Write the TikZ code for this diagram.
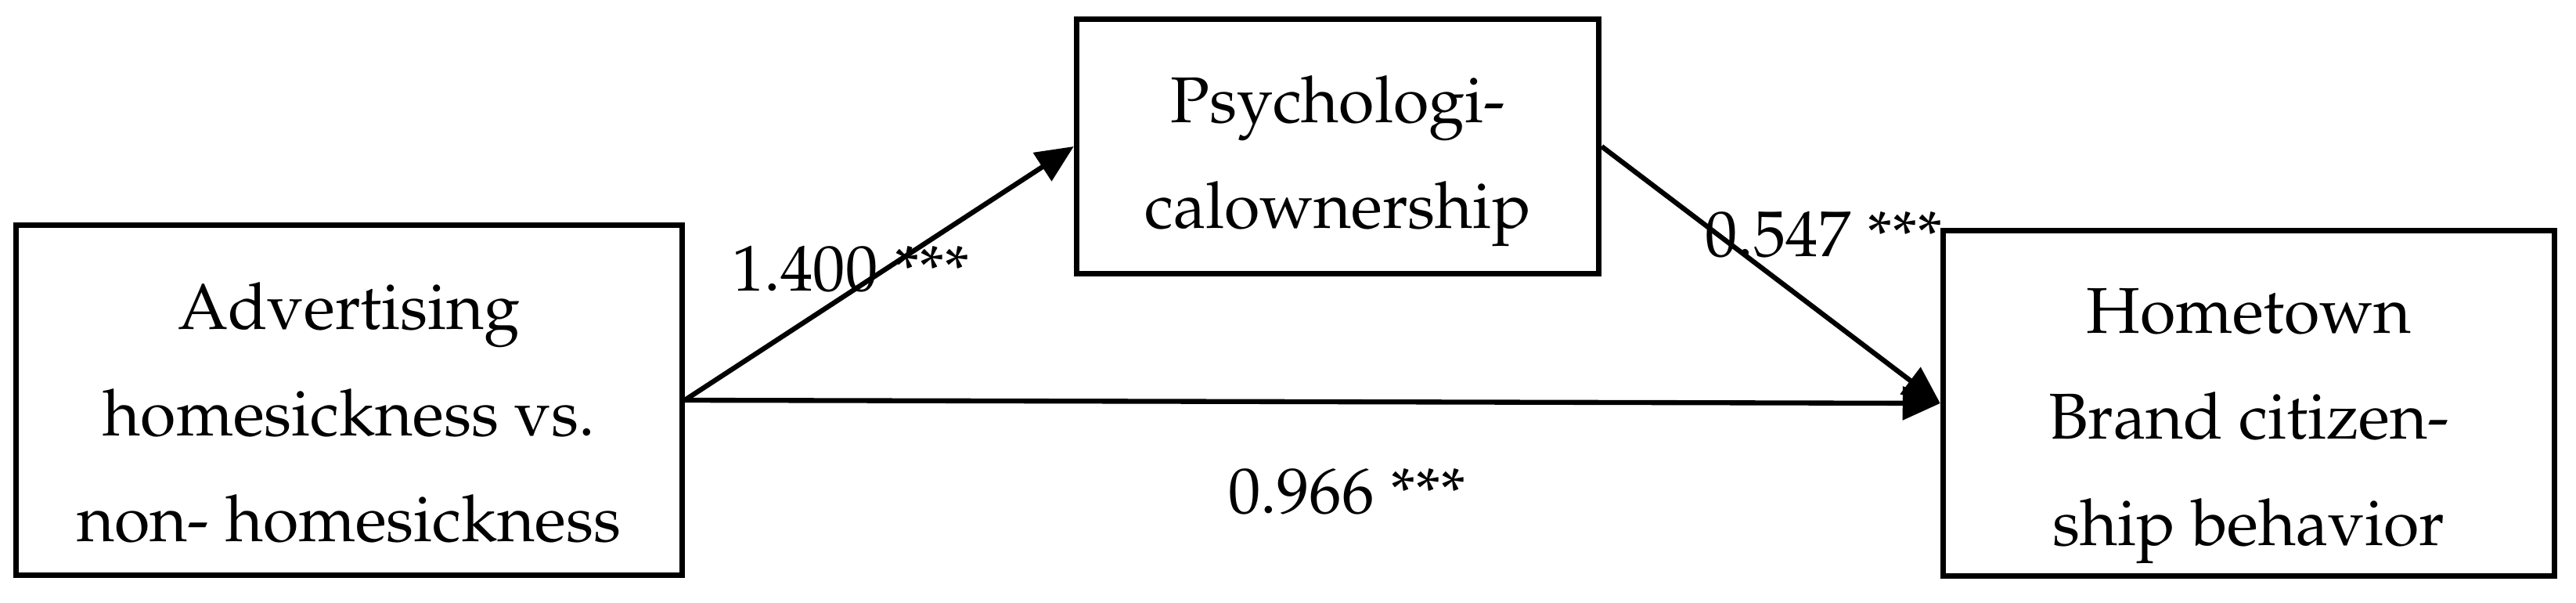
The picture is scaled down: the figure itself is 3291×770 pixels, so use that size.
\documentclass[tikz,border=0pt]{standalone}
\usepackage[T1]{fontenc}
\usepackage{mathpazo}
\usetikzlibrary{arrows.meta}
\tikzset{
	varbox/.style={draw, line width=2pt, inner sep=0pt},
	vartext/.style={align=center, inner sep=0pt},
	path/.style={line width=1.8pt, -{Triangle[length=0.48cm,width=0.42cm]}},
	coef/.style={inner sep=0pt}
}

\begin{document}
\begin{tikzpicture}[x=0.01cm, y=-0.01cm, font=\fontsize{23.5}{38.5}\selectfont]
			%%%%% START %%%%%
			\useasboundingbox (0, 0) rectangle (3291, 770);
			
			\node[varbox, minimum width=8.5cm, minimum height=4.47cm] (adv) at (446, 511) {};
			\node[varbox, minimum width=6.67cm, minimum height=3.24cm] (own) at (1709, 187) {};
			\node[varbox, minimum width=7.81cm, minimum height=4.4cm] (bcb) at (2873, 515) {};
			
			\node[vartext] (advtxt) at (446, 527) {Advertising\\homesickness vs.\\non- homesickness};
			\node[vartext] (owntxt) at (1709, 206) {Psychologi-\\calownership};
			\node[vartext] (bcbtxt) at (2873, 544) {Hometown\\Brand citizen-\\ship behavior};
			
			\draw[path] (adv.east) -- (own.west);
			\draw[path] (own.east) -- (bcb.west);
			\draw[path] (adv.east) -- (bcb.west);
			
			\node[coef] (a) at (1087, 344) {1.400 ***};
			\node[coef] (b) at (2330, 300) {0.547 ***};
			\node[coef] (c) at (1721, 628) {0.966 ***};
			
			%%%%% END %%%%%
		\end{tikzpicture}
\end{document}
